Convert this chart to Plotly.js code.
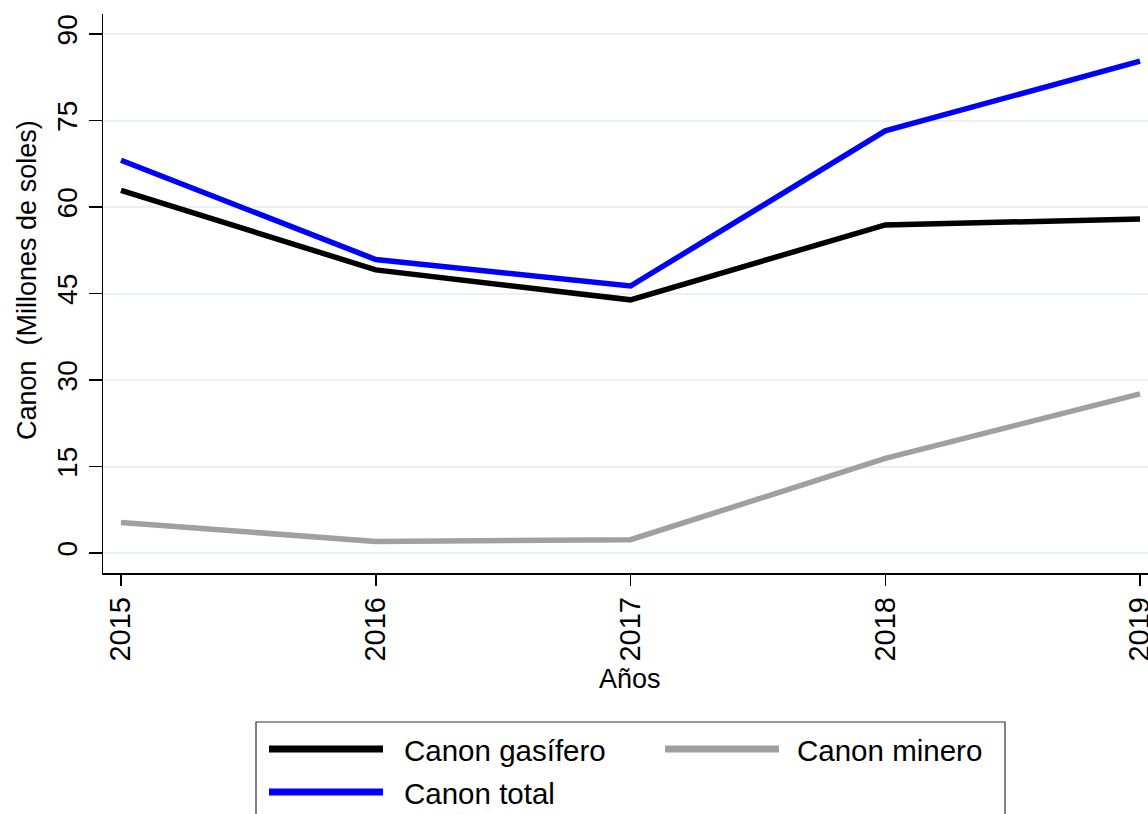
<!DOCTYPE html>
<html>
<head>
<meta charset="utf-8">
<script src="https://cdn.plot.ly/plotly-3.0.1.min.js"></script>
<style>html,body{margin:0;padding:0;background:#fff;overflow:hidden}</style>
</head>
<body>
<div id="chart" style="width:1148px;height:814px"></div>
<script>
// ---- data ----
const years = [2015, 2016, 2017, 2018, 2019];
const canonGasifero = [62.9, 49.1, 43.9, 56.9, 57.9];
const canonMinero = [5.3, 2.0, 2.3, 16.4, 27.6];
const canonTotal = [68.1, 50.9, 46.3, 73.2, 85.3];
const seriesNames = ["Canon gasífero", "Canon minero", "Canon total"];
const yTicks = [0, 15, 30, 45, 60, 75, 90];
const xTitle = "Años";
const yTitle = "Canon  (Millones de soles)";

// ---- layout helpers ----
const W = 1148, H = 814;
const L = 103, T = 14, R = 0, B = 241;
const PW = W - L - R, PH = H - T - B;
const px = x => (x - L) / PW;
const py = y => (T + PH - y) / PH;
const FONT = "Liberation Sans, Arial, Helvetica, sans-serif";

const colors = ["#000000", "#A0A0A0", "#0000FF"];
const seriesData = [canonGasifero, canonMinero, canonTotal];

const traces = seriesData.map((d, i) => ({
  type: "scatter", mode: "lines", x: years, y: d, name: seriesNames[i],
  line: {color: colors[i], width: 5.5}, showlegend: false, hoverinfo: "x+y+name"
}));

// custom legend (Stata style, long line samples)
const legendItems = [
  {idx: 0, lx: 269, ly: 749, tx: 402},
  {idx: 1, lx: 665, ly: 749, tx: 795},
  {idx: 2, lx: 269, ly: 792, tx: 402}
];
const shapes = [
  {type: "rect", xref: "paper", yref: "paper", x0: px(256), x1: px(1005), y0: py(830), y1: py(722),
   line: {color: "#333333", width: 1.2}, fillcolor: "rgba(0,0,0,0)"}
];
const annotations = [
  {xref: "paper", yref: "paper", x: px(27), y: py(280), text: yTitle, showarrow: false, textangle: -90,
   font: {family: FONT, size: 27, color: "#000"}, xanchor: "center", yanchor: "middle"},
  {xref: "paper", yref: "paper", x: px(630), y: py(679), text: xTitle, showarrow: false,
   font: {family: FONT, size: 27, color: "#000"}, xanchor: "center", yanchor: "middle"}
];
legendItems.forEach(it => {
  shapes.push({type: "line", xref: "paper", yref: "paper", x0: px(it.lx), x1: px(it.lx + 114),
    y0: py(it.ly), y1: py(it.ly), line: {color: colors[it.idx], width: 7}});
  annotations.push({xref: "paper", yref: "paper", x: px(it.tx), y: py(it.ly + 1), text: seriesNames[it.idx],
    showarrow: false, xanchor: "left", yanchor: "middle", font: {family: FONT, size: 29.5, color: "#000"}});
});

const layout = {
  width: W, height: H,
  margin: {l: L, r: R, t: T, b: B, pad: 0},
  paper_bgcolor: "#ffffff", plot_bgcolor: "#ffffff",
  font: {family: FONT, color: "#000"},
  showlegend: false,
  xaxis: {
    range: [2015 - 18 / 254.75, 2015 + (W - L - 18) / 254.75],
    tickvals: years, ticktext: years.map(String), tickangle: -90,
    tickfont: {family: FONT, size: 29, color: "#000"},
    ticks: "outside", ticklen: 11, tickwidth: 1.5, tickcolor: "#000",
    ticklabeloverflow: "allow",
    showline: true, linecolor: "#000", linewidth: 1.5,
    showgrid: false, zeroline: false, fixedrange: true
  },
  yaxis: {
    range: [-20 / (519 / 90), 90 + 20 / (519 / 90)],
    tickvals: yTicks, ticktext: yTicks.map(String), tickangle: -90,
    tickfont: {family: FONT, size: 28, color: "#000"},
    ticks: "outside", ticklen: 13, tickwidth: 1.5, tickcolor: "#000",
    showline: true, linecolor: "#000", linewidth: 1.5,
    showgrid: true, gridcolor: "#EAF0F3", gridwidth: 2,
    zeroline: false, fixedrange: true
  },
  shapes: shapes,
  annotations: annotations
};

Plotly.newPlot("chart", traces, layout, {displayModeBar: false, staticPlot: true});
</script>
</body>
</html>
